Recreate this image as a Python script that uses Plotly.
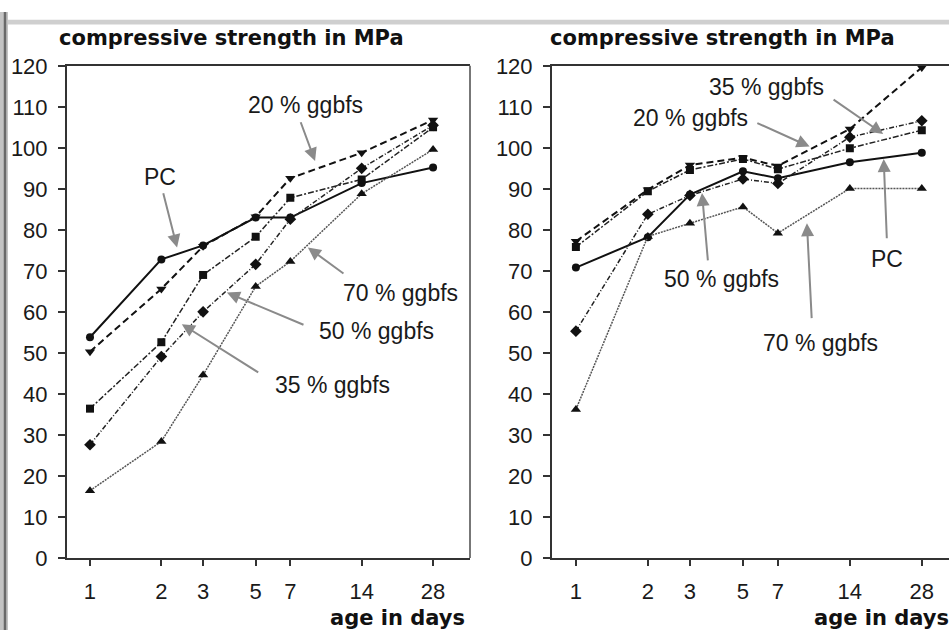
import numpy as np
import plotly.graph_objects as go

# ---------------- data ----------------
ages = [1, 2, 3, 5, 7, 14, 28]
tick_labels = ["1", "2", "3", "5", "7", "14", "28"]

# left panel
pc_a  = [53.8, 72.8, 76.2, 83.0, 83.0, 91.4, 95.2]
g20_a = [50.3, 65.6, 76.0, 83.2, 92.6, 98.8, 106.8]
g35_a = [36.4, 52.6, 69.0, 78.3, 87.8, 92.3, 105.0]
g50_a = [27.6, 49.1, 60.0, 71.6, 82.6, 95.0, 105.5]
g70_a = [16.4, 28.4, 44.6, 66.2, 72.3, 88.8, 99.6]

# right panel
pc_b  = [70.8, 78.2, 88.6, 94.3, 92.6, 96.5, 98.8]
g20_b = [77.2, 89.8, 95.8, 97.6, 95.6, 104.6, 119.6]
g35_b = [75.8, 89.4, 94.6, 97.3, 94.8, 99.9, 104.3]
g50_b = [55.3, 83.8, 88.4, 92.4, 91.3, 102.6, 106.6]
g70_b = [36.2, 78.4, 81.6, 85.6, 79.2, 90.1, 90.1]

series_names = ["PC", "20 % ggbfs", "35 % ggbfs", "50 % ggbfs", "70 % ggbfs"]

W, H = 949, 643
styles = {
    "PC": dict(line=dict(color="#111", width=2.0, dash="solid"),
               marker=dict(symbol="circle", size=8, color="#111")),
    "20 % ggbfs": dict(line=dict(color="#111", width=2.0, dash="7px,4px"),
                       marker=dict(symbol="triangle-down", size=9, color="#111")),
    "35 % ggbfs": dict(line=dict(color="#222", width=1.5, dash="6px,2px,2px,2px"),
                       marker=dict(symbol="square", size=8, color="#111")),
    "50 % ggbfs": dict(line=dict(color="#222", width=1.5, dash="5px,2px,1px,2px"),
                       marker=dict(symbol="diamond", size=9, color="#111")),
    "70 % ggbfs": dict(line=dict(color="#555", width=1.5, dash="2px,1px"),
                       marker=dict(symbol="triangle-up", size=9, color="#111")),
}

fig = go.Figure()
left = [pc_a, g20_a, g35_a, g50_a, g70_a]
right = [pc_b, g20_b, g35_b, g50_b, g70_b]
for name, vals in zip(series_names, left):
    fig.add_trace(go.Scatter(x=ages, y=vals, mode="lines+markers", name=name,
                             xaxis="x", yaxis="y", showlegend=False, **styles[name]))
for name, vals in zip(series_names, right):
    fig.add_trace(go.Scatter(x=ages, y=vals, mode="lines+markers", name=name,
                             xaxis="x2", yaxis="y2", showlegend=False, **styles[name]))

def px_x(p):
    return p / W

def px_y(p):
    return 1 - p / H

font_tick = dict(family="Liberation Sans, Arial", size=22, color="#1a1a1a")
common_x = dict(type="log", tickvals=ages, ticktext=tick_labels, showline=True,
                linecolor="#333", linewidth=2, ticks="outside", ticklen=6,
                tickwidth=2, tickcolor="#333", showgrid=False, zeroline=False,
                tickfont=font_tick, ticklabelstandoff=7)
common_y = dict(range=[0, 120], dtick=10, showline=True, linecolor="#333",
                linewidth=2, ticks="outside", ticklen=7, tickwidth=2,
                tickcolor="#333", showgrid=False, zeroline=False,
                tickfont=font_tick, ticklabelstandoff=6)

ydom = [px_y(568), px_y(56)]
fig.update_layout(
    width=W, height=H, margin=dict(l=0, r=0, t=0, b=0),
    paper_bgcolor="white", plot_bgcolor="white",
    xaxis=dict(domain=[px_x(67), px_x(470)], range=[-0.097, 1.603],
               anchor="y", mirror=True, **common_x),
    yaxis=dict(domain=ydom, anchor="x", **common_y),
    xaxis2=dict(domain=[px_x(552), 1.0], range=[-0.100, 1.561],
                anchor="y2", mirror=True, **common_x),
    yaxis2=dict(domain=ydom, anchor="x2", **common_y),
)

# frame decorations
fig.add_shape(type="rect", xref="paper", yref="paper", x0=0, x1=px_x(8),
              y0=0, y1=1, fillcolor="#c4c4c4", line=dict(width=0), layer="below")
fig.add_shape(type="line", xref="paper", yref="paper", x0=px_x(5), x1=px_x(5),
              y0=0, y1=1, line=dict(color="#6a6a6a", width=2.5))
fig.add_shape(type="rect", xref="paper", yref="paper", x0=px_x(8), x1=1,
              y0=px_y(13), y1=px_y(8), fillcolor="#cfcfcf", line=dict(width=0))
# right border of the left plot box (grey)
fig.add_shape(type="line", xref="x domain", yref="y domain", x0=1, x1=1, y0=0, y1=1,
              line=dict(color="#777", width=2))

title_font = dict(family="DejaVu Sans", size=21, color="#111")
for x0 in (57, 548):
    fig.add_annotation(text="<b>compressive strength in MPa</b>", xref="paper", yref="paper",
                       x=px_x(x0), y=px_y(27), xanchor="left", yanchor="middle",
                       showarrow=False, font=title_font)
fig.add_annotation(text="<b>age in days</b>", xref="paper", yref="paper",
                   x=px_x(467), y=px_y(630), xanchor="right", yanchor="middle",
                   showarrow=False, font=title_font)
fig.add_annotation(text="<b>age in days</b>", xref="paper", yref="paper",
                   x=px_x(812), y=px_y(630), xanchor="left", yanchor="middle",
                   showarrow=False, font=title_font)

lab_font = dict(family="Liberation Sans, Arial", size=23, color="#1a1a1a")
L = np.log10

# (axis suffix, label, text pos (day, MPa), arrow tail, arrow head)
labels = [
    ("", "20 % ggbfs", (8.15, 110.4), (7.7, 106.6), (8.9, 96.8)),
    ("", "PC", (1.97, 92.8), (2.03, 89.3), (2.33, 75.7)),
    ("", "70 % ggbfs", (20.5, 64.7), (11.9, 69.1), (8.3, 75.7)),
    ("", "50 % ggbfs", (16.1, 55.3), (8.07, 56.7), (3.78, 64.7)),
    ("", "35 % ggbfs", (10.5, 42.2), (5.2, 45.0), (2.44, 57.0)),
    ("2", "35 % ggbfs", (6.3, 114.8), (11.8, 112.0), (19.3, 103.4)),
    ("2", "20 % ggbfs", (3.03, 107.3), (5.66, 106.2), (9.5, 100.3)),
    ("2", "50 % ggbfs", (4.08, 68.0), (3.57, 72.2), (3.37, 89.0)),
    ("2", "PC", (20.0, 72.9), (20.0, 77.6), (19.4, 97.3)),
    ("2", "70 % ggbfs", (10.6, 52.3), (9.7, 58.1), (9.26, 81.6)),
]
for ax, text, tp, tail, head in labels:
    xr, yr = "x" + ax, "y" + ax
    fig.add_annotation(text=text, xref=xr, yref=yr, x=L(tp[0]), y=tp[1],
                       xanchor="center", yanchor="middle", showarrow=False,
                       font=lab_font)
    fig.add_annotation(text="", xref=xr, yref=yr, x=L(head[0]), y=head[1],
                       axref=xr, ayref=yr, ax=L(tail[0]), ay=tail[1],
                       showarrow=True, arrowhead=2, arrowsize=1.3, arrowwidth=2,
                       arrowcolor="#8a8a8a")

fig.write_html("out.html")
